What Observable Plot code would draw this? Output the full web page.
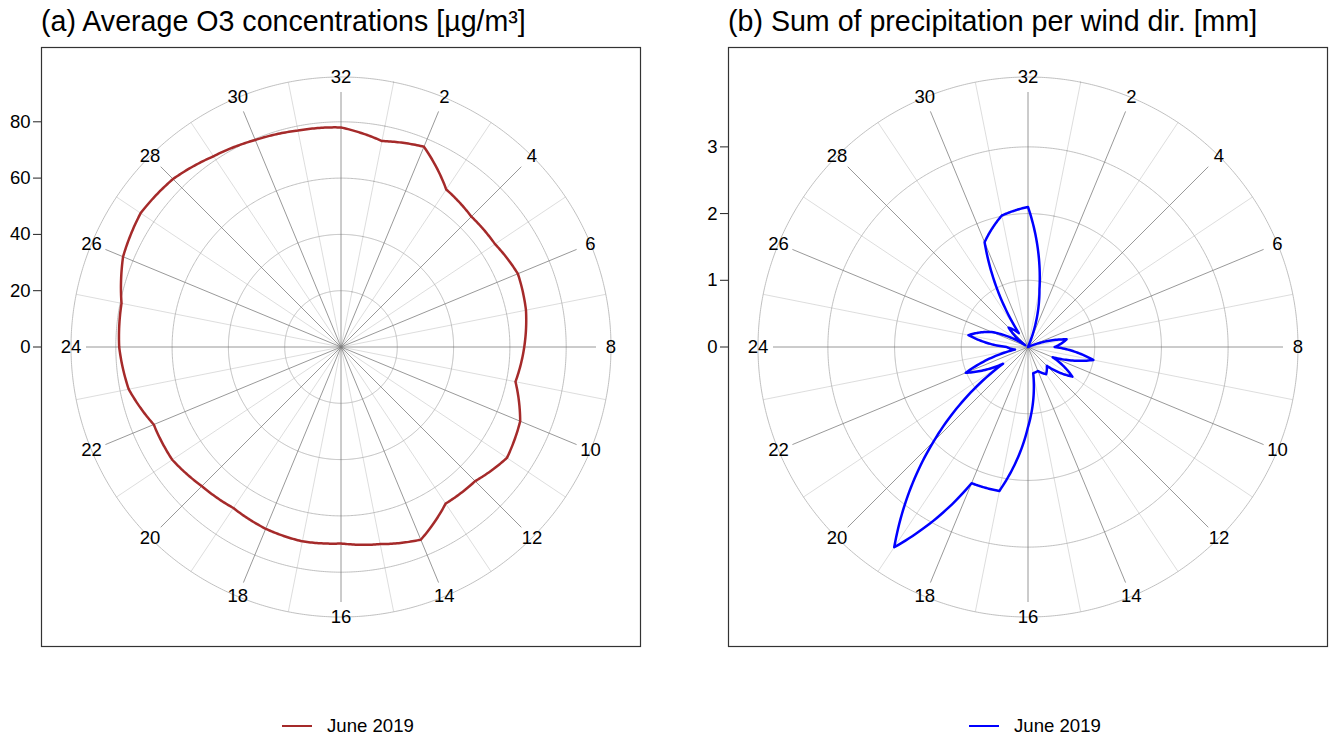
<!DOCTYPE html>
<html>
<head>
<meta charset="utf-8">
<script src="https://cdn.jsdelivr.net/npm/d3@7"></script>
<script src="https://cdn.jsdelivr.net/npm/@observablehq/plot@0.6"></script>
<style>
  html, body { margin: 0; padding: 0; background: #fff; }
  body { font-family: "Liberation Sans", Arial, sans-serif; color: #000; }
  #wrap { position: relative; width: 1332px; height: 740px; overflow: hidden; background: #fff; }
  .panel { position: absolute; top: 0; width: 666px; height: 680px; }
  .panel svg { max-width: none !important; width: 666px; height: 680px; }
  .title { position: absolute; top: 7px; font-size: 28.6px; line-height: 1; white-space: nowrap; color: #000; }
  .legend { position: absolute; top: 717px; font-size: 18.6px; line-height: 1; white-space: nowrap; color: #000; display: flex; align-items: center; }
  .legend .swatch { display: inline-block; width: 30px; height: 0; margin-right: 15px; }
</style>
</head>
<body>
<div id="wrap"></div>
<script>
// ---- data ----
const directions = d3.range(1, 33);               // wind direction sectors 1..32 (32 = north)
const directionTickLabels = [2, 4, 6, 8, 10, 12, 14, 16, 18, 20, 22, 24, 26, 28, 30, 32];
const o3June2019 = [74.6, 77.0, 67.3, 65.5, 65.8, 68.0, 67.0, 65.1, 63.2, 68.9, 70.9, 67.4, 66.9, 74.1, 71.4, 69.8,
                    70.4, 69.9, 68.8, 69.9, 72.1, 72.0, 76.9, 78.8, 79.5, 83.8, 85.6, 84.4, 81.5, 79.6, 78.4, 78.0];
const precipJune2019 = [0.88, 0.03, 0, 0, 0, 0.03, 0.59, 0.40, 1.00, 0.40, 0.80, 0.40, 0.49, 0.39, 0.40, 1.20,
                        2.20, 2.21, 3.61, 2.00, 0.45, 1.01, 0.20, 0.32, 0.91, 0.59, 0.05, 0.41, 0.25, 1.70, 2.01, 2.10];
const o3RadialTicks = [0, 20, 40, 60, 80];
const precipRadialTicks = [0, 1, 2, 3];
const seriesLabel = "June 2019";

// ---- layout / styling ----
const W = 666, H = 680, mL = 41, mR = 26, mT = 47, mB = 34;
const cx = mL + (W - mL - mR) / 2, cy = mT + (H - mT - mB) / 2;
const OUTER_PX = 270, MAJOR_SPOKE_PX = 255;

// d3 curve factory: interpolates linearly in (angle, radius) around the plot centre, closed
function polarCurve(steps = 24) {
  return function (context) {
    let pts = [];
    return {
      areaStart() {}, areaEnd() {},
      lineStart() { pts = []; },
      point(x, y) { pts.push([+x, +y]); },
      lineEnd() {
        const n = pts.length;
        if (!n) return;
        const polar = pts.map(([x, y]) => {
          const r = Math.hypot(x - cx, y - cy);
          return [r < 1e-6 ? NaN : Math.atan2(y - cy, x - cx), r];
        });
        const p0 = pts[0];
        context.moveTo(p0[0], p0[1]);
        for (let i = 1; i <= n; i++) {
          let [a0, r0] = polar[i - 1];
          let [a1, r1] = polar[i % n];
          if (isNaN(a0)) a0 = a1;
          if (isNaN(a1)) a1 = a0;
          if (isNaN(a0)) { a0 = a1 = 0; }
          let da = a1 - a0;
          while (da > Math.PI) da -= 2 * Math.PI;
          while (da < -Math.PI) da += 2 * Math.PI;
          for (let k = 1; k <= steps; k++) {
            const t = k / steps, a = a0 + da * t, r = r0 + (r1 - r0) * t;
            context.lineTo(cx + r * Math.cos(a), cy + r * Math.sin(a));
          }
        }
        context.closePath();
      }
    };
  };
}

function polarPanel({values, color, radialTicks, gridRadii, half}) {
  const pxPerUnit = (W - mL - mR) / (2 * half);
  const outer = OUTER_PX / pxPerUnit;
  const majorLen = MAJOR_SPOKE_PX / pxPerUnit;
  const ang = (d) => d * 2 * Math.PI / 32;      // clockwise from north
  const px = (d, r) => r * Math.sin(ang(d));
  const py = (d, r) => r * Math.cos(ang(d));
  const curve = polarCurve();
  const series = directions.map((d, i) => ({dir: d, value: values[i]}));
  const rings = [...gridRadii, outer].flatMap((r) => directions.map((d) => ({dir: d, r})));
  const minorSpokes = directions.filter((d) => d % 2 === 1);
  const majorSpokes = directions.filter((d) => d % 2 === 0);
  return Plot.plot({
    width: W, height: H,
    marginLeft: mL, marginRight: mR, marginTop: mT, marginBottom: mB,
    x: {domain: [-half, half], axis: null},
    y: {domain: [-half, half], axis: null},
    style: {fontFamily: "'Liberation Sans', Arial, sans-serif", fontSize: "18.5px", color: "#000", background: "#fff"},
    marks: [
      Plot.link(minorSpokes, {x1: () => 0, y1: () => 0, x2: (d) => px(d, outer), y2: (d) => py(d, outer), stroke: "#d4d4d4", strokeWidth: 0.8}),
      Plot.line(rings, {x: (d) => px(d.dir, d.r), y: (d) => py(d.dir, d.r), z: "r", curve, stroke: "#b0b0b0", strokeWidth: 0.8}),
      Plot.link(majorSpokes, {x1: () => 0, y1: () => 0, x2: (d) => px(d, majorLen), y2: (d) => py(d, majorLen), stroke: "#7f7f7f", strokeWidth: 0.8}),
      Plot.text(directionTickLabels, {x: (d) => px(d, outer), y: (d) => py(d, outer), text: (d) => String(d), fontSize: 18.5, fill: "#000"}),
      Plot.line(series, {x: (d) => px(d.dir, d.value), y: (d) => py(d.dir, d.value), curve, stroke: color, strokeWidth: 2.5}),
      Plot.axisY(radialTicks, {anchor: "left", tickSize: 8, tickPadding: 3, fontSize: 18.5, label: null, stroke: "#222", tickFormat: (d) => String(d)}),
      Plot.frame({stroke: "#333", strokeWidth: 1.2})
    ]
  });
}

const wrap = document.getElementById("wrap");
const panels = [
  {left: 0, title: "(a) Average O3 concentrations [µg/m³]", values: o3June2019, color: "#a52a2a",
   radialTicks: o3RadialTicks, gridRadii: [20, 40, 60, 80], half: 106.4},
  {left: 687, title: "(b) Sum of precipitation per wind dir. [mm]", values: precipJune2019, color: "#0000ff",
   radialTicks: precipRadialTicks, gridRadii: [1, 2, 3], half: 4.49}
];
for (const p of panels) {
  const div = document.createElement("div");
  div.className = "panel";
  div.style.left = p.left + "px";
  div.appendChild(polarPanel(p));
  wrap.appendChild(div);

  const t = document.createElement("div");
  t.className = "title";
  t.style.left = (p.left + mL) + "px";
  t.textContent = p.title;
  wrap.appendChild(t);

  const lg = document.createElement("div");
  lg.className = "legend";
  lg.style.left = (p.left + 282) + "px";
  const sw = document.createElement("span");
  sw.className = "swatch";
  sw.style.borderTop = `2.5px solid ${p.color}`;
  const txt = document.createElement("span");
  txt.textContent = seriesLabel;
  lg.appendChild(sw);
  lg.appendChild(txt);
  wrap.appendChild(lg);
}
</script>
</body>
</html>
